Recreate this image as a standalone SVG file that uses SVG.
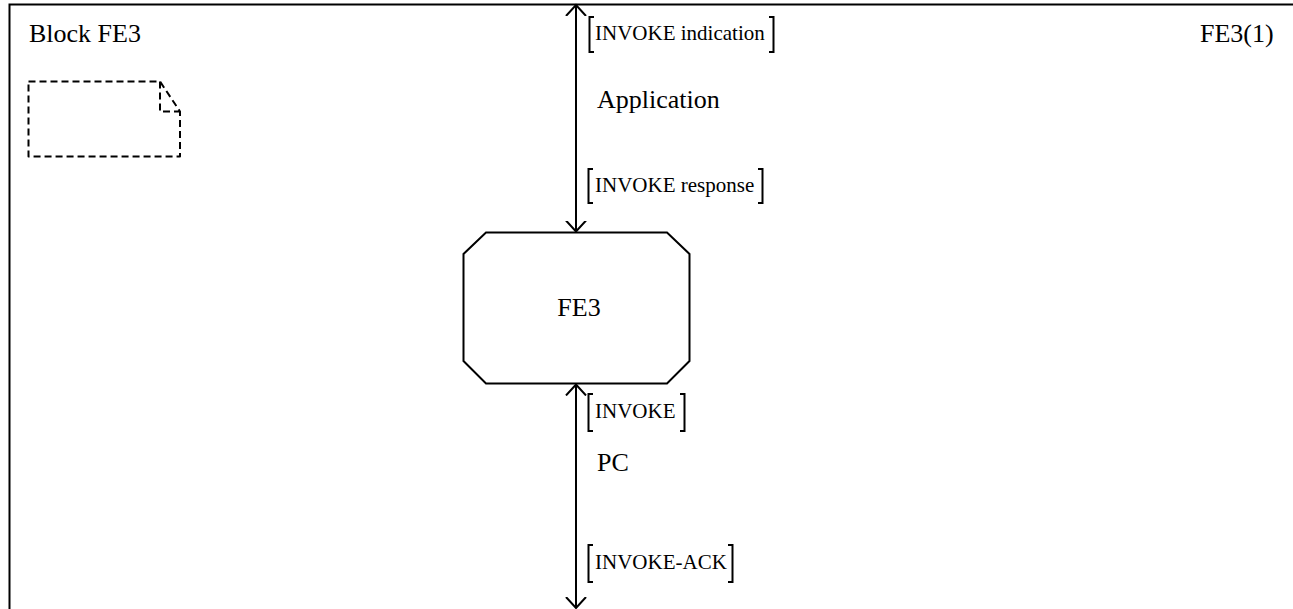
<svg xmlns="http://www.w3.org/2000/svg" width="1293" height="609" viewBox="0 0 1293 609">
  <style>
    .line { fill: none; stroke: #000; stroke-width: 2; }
    .dash { fill: none; stroke: #000; stroke-width: 2; stroke-dasharray: 7 4; stroke-linejoin: round; }
    .big { font-size: 26px; fill: #000; }
    .sig { font-size: 21px; fill: #000; }
  </style>
  <defs>
    <marker id="open" markerWidth="24" markerHeight="24" refX="11" refY="10" orient="auto-start-reverse" markerUnits="userSpaceOnUse" viewBox="0 0 24 20">
      <path d="M0,0 L11,10 L0,20" fill="none" stroke="#000" stroke-width="2"/>
    </marker>
  </defs>
  <rect width="1293" height="609" fill="#fff"/>

  <g font-family="'Liberation Serif', 'DejaVu Serif', serif">
    <!-- block frame (continues past the page edge) -->
    <g id="block-frame">
      <rect x="9.5" y="4.5" width="1300" height="620" class="line"/>
      <text x="29" y="42" class="big">Block FE3</text>
      <text x="1200" y="42" class="big">FE3(1)</text>
    </g>

    <!-- dashed text symbol -->
    <g id="dashed-note">
      <path d="M28.5,81.5 H160 L180,111.5 V156.5 H28.5 Z" class="dash"/>
      <path d="M160,81.5 V111.5 H180" class="dash"/>
    </g>

    <!-- process FE3 -->
    <g id="fe3">
      <path d="M486,232.5 H667 L689.5,254 V361 L667,383.5 H486 L463.5,361 V254 Z" class="line"/>
      <text x="579" y="316" class="big" text-anchor="middle">FE3</text>
    </g>

    <!-- channels -->
    <g id="connectors">
      <line x1="576" y1="5" x2="576" y2="231.5" class="line" marker-start="url(#open)" marker-end="url(#open)"/>
      <line x1="576" y1="384.5" x2="576" y2="608" class="line" marker-start="url(#open)" marker-end="url(#open)"/>
    </g>

    <!-- channel Application -->
    <g id="channel-application">
      <text x="597" y="108" class="big">Application</text>
      <path d="M594,17 H589.5 V52 H594 M769,17 H773.5 V52 H769" class="line"/>
      <text x="595" y="40" class="sig">INVOKE indication</text>
      <path d="M593,169 H588.5 V203 H593 M758,169 H762.5 V203 H758" class="line"/>
      <text x="595" y="192" class="sig">INVOKE response</text>
    </g>

    <!-- channel PC -->
    <g id="channel-pc">
      <text x="597" y="471" class="big">PC</text>
      <path d="M593,394 H588.5 V431 H593 M680,394 H684.5 V431 H680" class="line"/>
      <text x="595" y="418" class="sig">INVOKE</text>
      <path d="M593,545 H588.5 V582 H593 M728,545 H732.5 V582 H728" class="line"/>
      <text x="595" y="569" class="sig">INVOKE-ACK</text>
    </g>
  </g>
</svg>
